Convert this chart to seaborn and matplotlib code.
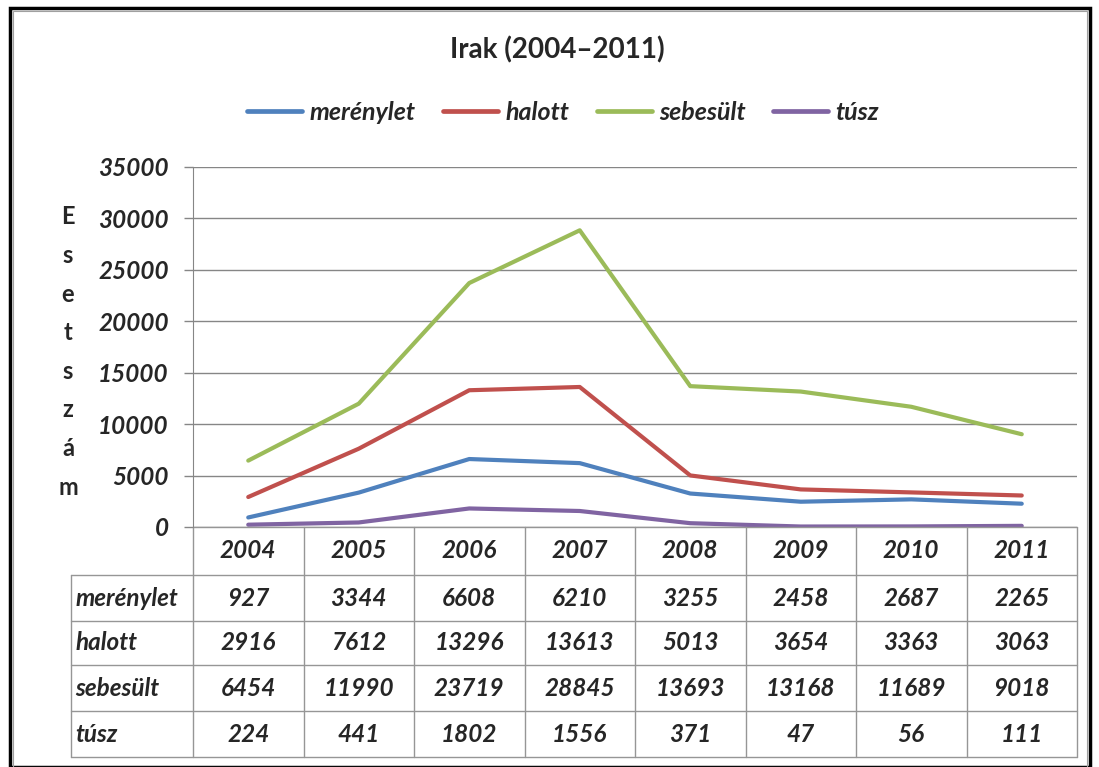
import numpy as np
import pandas as pd
import matplotlib
matplotlib.use("Agg")
import matplotlib.pyplot as plt
import seaborn as sns
from matplotlib.patches import Rectangle
from matplotlib.lines import Line2D

years = ["2004", "2005", "2006", "2007", "2008", "2009", "2010", "2011"]
series_names = ["merénylet", "halott", "sebesült", "túsz"]
merenylet = [927, 3344, 6608, 6210, 3255, 2458, 2687, 2265]
halott = [2916, 7612, 13296, 13613, 5013, 3654, 3363, 3063]
sebesult = [6454, 11990, 23719, 28845, 13693, 13168, 11689, 9018]
tusz = [224, 441, 1802, 1556, 371, 47, 56, 111]
yticks = [0, 5000, 10000, 15000, 20000, 25000, 30000, 35000]
colors = ["#4F81BD", "#C0504D", "#9BBB59", "#8064A2"]

values = [merenylet, halott, sebesult, tusz]
df = pd.DataFrame({
    "year": np.tile(np.arange(len(years)), len(series_names)),
    "value": np.concatenate(values),
    "series": np.repeat(series_names, len(years)),
})

sns.set_style("white")
plt.rcParams["font.family"] = ["Lato", "DejaVu Sans"]

W, H = 1099, 767
fig = plt.figure(figsize=(W / 100, H / 100), dpi=100)
ax = fig.add_axes([193 / W, 1 - 527 / H, (1077 - 193) / W, (527 - 167) / H])

sns.lineplot(data=df, x="year", y="value", hue="series", hue_order=series_names,
             palette=colors, linewidth=3.0, ax=ax, legend=False)

ax.set_xlim(-0.5, len(years) - 0.5)
ax.set_ylim(0, 35000)
ax.set_yticks(yticks)
ax.set_yticklabels([str(t) for t in yticks], fontsize=17.5, fontweight="bold", style="italic")
ax.set_xticks([])
ax.set_xlabel("")
ax.set_ylabel("")
ax.tick_params(axis="y", length=6.5, width=1, color="#868686", pad=11, left=True)
for yt in yticks:
    ax.axhline(yt, color="#868686", lw=1, zorder=0)
for s in ["top", "right", "bottom"]:
    ax.spines[s].set_visible(False)
ax.spines["left"].set_color("#868686")

# data table below the axis
trans = ax.get_xaxis_transform()
ax_h = 527 - 167
row_px = [527, 575, 621, 665, 711, 757]
row_y = [-(p - 527) / ax_h for p in row_px]
label_x = -0.5 - (193 - 71) / ((1077 - 193) / len(years))
gc = "#969696"

# horizontal lines
ax.plot([-0.5, len(years) - 0.5], [row_y[0]] * 2, transform=trans, color=gc, lw=1, clip_on=False)
for ry in row_y[1:]:
    ax.plot([label_x, len(years) - 0.5], [ry] * 2, transform=trans, color=gc, lw=1, clip_on=False)
# vertical lines
for k in range(len(years) + 1):
    ax.plot([k - 0.5] * 2, [row_y[0], row_y[-1]], transform=trans, color=gc, lw=1, clip_on=False)
ax.plot([label_x] * 2, [row_y[1], row_y[-1]], transform=trans, color=gc, lw=1, clip_on=False)

tkw = dict(transform=trans, fontsize=17.5, fontweight="bold", style="italic", va="center", clip_on=False)
for i, yr in enumerate(years):
    ax.text(i, (row_y[0] + row_y[1]) / 2, yr, ha="center", **tkw)
for r, (name, vals) in enumerate(zip(series_names, values)):
    yc = (row_y[r + 1] + row_y[r + 2]) / 2
    ax.text(label_x + 0.04, yc, name, ha="left", **tkw)
    for i, v in enumerate(vals):
        ax.text(i, yc, str(v), ha="center", **tkw)

# title, legend, y label
fig.text(557 / W, 1 - 50 / H, "Irak (2004–2011)", ha="center", va="center", fontsize=20, fontweight="bold")
handles = [Line2D([0], [0], color=c, lw=3.4) for c in colors]
leg = fig.legend(handles, series_names, loc="center", bbox_to_anchor=(563 / W, 1 - 112 / H), ncol=4,
                 frameon=False, handlelength=2.2, columnspacing=1.1, handletextpad=0.3,
                 prop={"size": 18, "weight": "bold", "style": "italic"})
fig.text(68 / W, 1 - 352 / H, "E\ns\ne\nt\ns\nz\ná\nm", ha="center", va="center",
         fontsize=17, fontweight="bold", linespacing=1.82)

# outer frame
fig.patches.append(Rectangle((10 / W, 0 / H), 1080 / W, (H - 8) / H, transform=fig.transFigure,
                             fill=False, edgecolor="black", lw=2.5))
fig.patches.append(Rectangle((13 / W, 0 / H), 1074 / W, (H - 11) / H, transform=fig.transFigure,
                             fill=False, edgecolor="#a0a0a0", lw=0.8))

fig.savefig("out.png", dpi=100)
